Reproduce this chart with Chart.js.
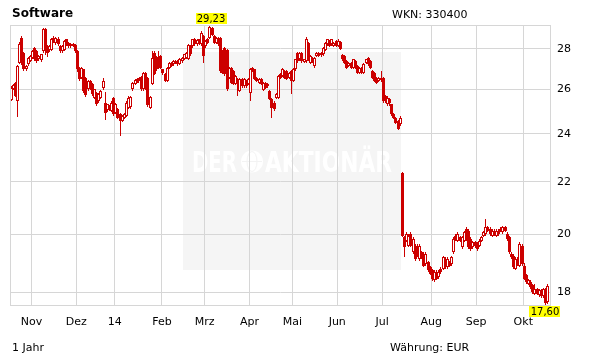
<!DOCTYPE html>
<html><head><meta charset="utf-8">
<script src="https://cdn.jsdelivr.net/npm/chart.js@4/dist/chart.umd.min.js"></script>
<style>
html,body{margin:0;padding:0;background:#fff;}
#wrap{position:relative;width:611px;height:364px;overflow:hidden;}
#c{position:absolute;left:0;top:0;}
.t{position:absolute;font-family:"DejaVu Sans",Verdana,sans-serif;color:#000;white-space:nowrap;font-size:11px;line-height:13px;}
</style></head><body>
<div id="wrap">
<canvas id="c" width="611" height="364"></canvas>
<div class="t" style="left:12px;top:6px;font-weight:bold;font-size:12px;line-height:14px;">Software</div>
<div class="t" style="left:392px;top:8px;">WKN: 330400</div>
<div class="t" style="left:12px;top:341px;">1 Jahr</div>
<div class="t" style="left:390px;top:341px;">Währung: EUR</div>
</div>
<script>
// ---- data (daily candles, Software AG, Oct 2013 - Oct 2014) ----
const open = [
25.50,26.05,26.33,25.47,27.30,28.56,27.80,26.97,27.22,27.40,
27.55,28.05,27.88,27.46,27.42,27.88,29.04,28.13,27.93,27.96,
28.56,28.30,28.50,28.13,27.88,27.96,28.48,28.30,28.13,28.13,
28.18,27.88,27.05,26.57,26.97,26.57,26.01,26.41,26.25,25.62,
25.85,25.47,25.62,26.09,25.39,25.05,25.24,25.01,25.59,24.94,
25.09,24.86,24.56,24.71,24.79,25.16,25.20,26.01,26.25,26.49,
26.45,26.61,26.01,26.81,26.57,25.16,26.25,27.80,27.60,27.55,
27.63,26.97,26.73,26.41,27.05,27.30,27.22,27.30,27.38,27.22,
27.38,27.50,27.55,27.50,28.13,28.13,28.48,28.22,28.48,28.22,
28.65,28.13,28.48,28.56,29.08,28.65,28.30,28.56,28.56,27.88,
28.05,27.96,26.57,27.05,26.89,26.25,26.49,25.93,26.49,26.17,
26.41,26.25,25.85,27.05,26.97,26.57,26.33,26.49,25.98,26.33,
26.17,25.93,25.54,25.39,25.62,25.62,26.73,26.65,26.89,26.89,
26.57,26.89,26.41,26.97,27.80,27.46,27.80,27.33,27.38,28.30,
27.30,27.55,27.13,27.63,27.80,27.67,27.71,27.96,28.22,28.39,
28.22,28.13,28.39,28.13,28.34,27.67,27.63,27.38,27.13,27.30,
27.05,27.38,27.13,26.81,27.05,26.81,27.30,27.55,27.38,26.89,
26.81,26.57,26.41,26.44,26.57,25.70,25.31,25.54,25.31,24.86,
24.71,24.56,24.41,22.37,19.90,19.78,19.60,20.02,19.36,19.60,
19.60,19.13,19.36,19.30,18.96,19.02,18.85,18.74,18.40,18.68,
18.51,18.79,18.79,19.13,18.85,19.02,18.96,19.36,19.96,19.78,
19.90,19.54,19.78,20.20,20.14,19.84,19.54,19.72,19.66,19.60,
19.78,19.96,20.02,20.26,20.20,19.96,20.14,19.96,20.14,20.14,
20.08,20.26,20.02,19.90,19.30,19.25,18.79,19.13,18.90,19.60,
18.90,18.57,18.29,18.35,18.24,17.96,18.11,17.91,18.07,17.89,18.11,17.69];
const high = [
26.15,26.25,26.38,27.20,28.35,28.65,27.85,27.20,27.60,27.70,
27.95,28.10,27.95,27.70,27.75,29.08,29.08,28.20,28.20,28.55,
28.65,28.60,28.58,28.20,28.18,28.45,28.52,28.35,28.28,28.30,
28.25,27.92,27.10,27.10,27.00,26.60,26.45,26.45,26.30,26.05,
25.90,25.82,25.98,26.53,25.88,25.35,25.30,25.45,25.65,25.38,
25.15,24.90,24.85,24.92,25.45,25.68,25.72,26.38,26.50,26.55,
26.62,26.66,26.86,26.85,26.60,25.72,27.88,27.88,27.65,27.88,
27.70,27.00,26.78,27.10,27.35,27.35,27.42,27.42,27.45,27.52,
27.60,27.75,27.85,28.25,28.18,28.52,28.55,28.50,28.52,28.91,
28.70,28.45,28.55,29.23,29.12,28.70,28.60,28.60,28.60,27.95,
28.10,28.00,27.10,27.10,26.95,26.70,26.55,26.55,26.55,26.53,
26.45,26.55,27.02,27.10,27.00,26.62,26.55,26.55,26.38,26.38,
26.30,25.98,25.60,25.45,25.82,26.70,26.80,27.02,26.95,26.95,
26.85,26.95,27.02,27.50,27.85,27.85,27.85,27.50,28.58,28.35,
27.68,27.60,27.60,27.85,27.85,27.85,28.10,28.35,28.52,28.45,
28.52,28.35,28.45,28.50,28.40,27.72,27.68,27.42,27.35,27.35,
27.50,27.42,27.18,27.10,27.10,27.28,27.50,27.60,27.42,26.95,
26.85,26.62,26.62,26.89,26.62,25.75,25.68,25.60,25.35,24.90,
24.75,24.60,24.80,22.40,19.96,20.08,20.02,20.08,19.90,19.66,
19.66,19.66,19.42,19.36,19.36,19.07,18.90,18.79,18.74,18.74,
18.74,18.85,19.25,19.19,19.19,19.07,19.25,19.90,20.02,20.08,
19.96,19.96,20.14,20.26,20.20,19.90,19.78,19.78,19.72,19.84,
19.96,20.14,20.56,20.32,20.26,20.20,20.20,20.20,20.20,20.26,
20.32,20.32,20.08,19.96,19.36,19.30,19.19,19.19,19.72,19.66,
19.00,18.62,18.46,18.40,18.29,18.27,18.16,18.13,18.13,18.16,18.16,18.27];
const low = [
25.45,26.00,25.65,24.72,27.25,27.20,26.90,26.90,27.15,27.35,
27.50,27.40,27.30,27.40,27.35,27.80,27.70,27.60,27.85,27.90,
28.30,28.20,28.15,27.80,27.80,27.90,28.15,28.05,28.05,28.10,
27.80,26.85,26.40,26.50,25.85,25.65,25.95,26.00,25.70,25.55,
25.25,25.40,25.55,26.00,24.60,24.98,25.00,24.95,24.80,24.88,
24.65,23.91,24.50,24.65,24.72,25.10,25.10,25.95,26.20,26.30,
26.40,25.95,25.95,26.00,25.20,25.10,26.20,26.70,26.90,27.00,
27.00,26.70,26.35,26.35,27.00,27.08,27.15,27.25,27.15,27.18,
27.30,27.45,27.50,27.45,27.65,28.05,28.15,28.15,28.18,28.15,
27.30,28.05,28.25,28.50,28.65,28.25,28.25,28.15,26.80,26.75,
26.65,25.95,26.50,26.25,26.20,26.20,25.70,25.88,26.10,26.10,
26.10,26.20,25.47,26.85,26.45,26.35,26.28,26.20,25.93,26.05,
26.10,25.50,24.71,25.00,25.55,25.58,26.50,26.60,26.50,26.45,
26.50,25.78,26.35,26.90,27.30,27.40,27.30,27.28,27.30,27.40,
27.25,27.30,27.05,27.58,27.58,27.60,27.65,27.90,28.15,28.08,
28.15,28.08,28.08,28.08,27.95,27.40,27.25,27.00,27.08,27.00,
27.00,27.00,26.75,26.75,26.75,26.75,27.25,27.15,27.00,26.50,
26.35,26.28,26.35,26.38,25.40,25.40,25.25,25.24,24.80,24.65,
24.43,24.15,24.35,19.90,19.19,19.72,19.54,19.55,19.30,19.07,
19.19,19.07,19.13,18.85,18.90,18.68,18.57,18.38,18.35,18.40,
18.46,18.62,18.74,18.79,18.79,18.85,18.90,19.30,19.78,19.72,
19.72,19.48,19.72,19.78,19.48,19.42,19.48,19.52,19.42,19.54,
19.72,19.90,19.96,20.08,19.96,19.90,19.96,19.90,19.96,20.08,
20.02,20.08,19.78,19.30,19.13,18.79,18.74,18.90,18.85,18.90,
18.40,18.29,18.24,18.13,17.96,17.91,17.91,17.86,17.84,17.84,17.60,17.64];
const close = [
26.09,26.20,25.70,27.16,28.26,27.30,26.97,27.13,27.55,27.63,
27.88,27.46,27.38,27.63,27.71,29.04,27.88,27.80,28.13,28.48,
28.39,28.56,28.22,27.88,28.13,28.39,28.22,28.13,28.22,28.22,
27.88,26.97,26.49,27.05,25.93,25.73,26.41,26.09,25.78,26.01,
25.31,25.78,25.93,26.41,24.94,25.31,25.09,25.39,24.86,25.31,
24.71,24.56,24.79,24.86,25.39,25.62,25.67,26.33,26.44,26.33,
26.57,26.01,26.81,26.09,25.27,25.67,27.55,26.73,26.97,27.05,
27.05,26.78,26.41,27.05,27.30,27.13,27.38,27.38,27.22,27.46,
27.55,27.71,27.80,28.17,27.71,28.48,28.22,28.44,28.22,28.82,
27.63,28.39,28.30,29.12,28.73,28.30,28.56,28.22,26.89,26.81,
26.73,26.01,27.05,26.33,26.25,26.65,26.33,26.49,26.17,26.49,
26.17,26.49,26.97,26.89,26.49,26.41,26.49,26.25,26.33,26.09,
26.25,25.54,25.16,25.09,25.78,26.65,26.57,26.97,26.57,26.49,
26.81,26.41,26.97,27.46,27.38,27.80,27.38,27.46,28.48,27.46,
27.63,27.38,27.55,27.80,27.63,27.80,28.05,28.30,28.48,28.13,
28.48,28.30,28.13,28.39,28.00,27.46,27.30,27.05,27.30,27.05,
27.46,27.05,26.81,27.05,26.81,27.22,27.46,27.22,27.05,26.57,
26.41,26.33,26.57,26.57,25.47,25.47,25.62,25.39,24.86,24.71,
24.49,24.20,24.71,19.94,19.54,20.02,19.96,19.60,19.84,19.13,
19.25,19.60,19.19,18.90,19.30,18.74,18.62,18.46,18.68,18.46,
18.68,18.68,19.19,18.85,19.13,18.90,19.19,19.84,19.84,20.02,
19.78,19.90,20.08,19.84,19.54,19.48,19.72,19.58,19.48,19.78,
19.90,20.08,20.26,20.14,20.02,20.14,20.02,20.14,20.02,20.20,
20.26,20.14,19.84,19.36,19.19,18.85,19.13,18.96,19.66,18.96,
18.46,18.35,18.40,18.18,18.02,18.11,17.96,18.07,17.89,18.11,17.67,18.22];

const monthLabels = ['Nov','Dez','14','Feb','Mrz','Apr','Mai','Jun','Jul','Aug','Sep','Okt'];
const monthStart  = [10, 31, 49, 71, 91, 112, 132, 153, 174, 197, 218, 240];
const yTickValues = [18, 20, 22, 24, 26, 28];

// ---- styling ----
const RED = '#cc0000';
const GRID = '#d6d6d6';
const FONT = '"DejaVu Sans", Verdana, sans-serif';

// the axis runs one trading day beyond the last candle
const slots = close.length + 1;
const labels = Array.from({length: slots}, (_, i) => i);
const tickText = {};
monthStart.forEach((s, k) => { tickText[s] = monthLabels[k]; });
const yMax = Math.max(...high);
const yMin = Math.min(...low);
const fmt = v => v.toFixed(2).replace('.', ',');

// snap the bars that Chart.js laid out onto whole device pixels (crisp 1px / 3px candles)
const snap = {
  id: 'snap',
  beforeDatasetsDraw(chart) {
    chart.getSortedVisibleDatasetMetas().forEach(meta => {
      meta.data.forEach(el => {
        el.x = Math.floor(el.x) + 0.5;
        el.y = Math.round(el.y);
        el.base = Math.round(el.base);
        if (Math.abs(el.base - el.y) < 1) el.base = el.y + 1;
      });
    });
  }
};

const decor = {
  id: 'decor',
  beforeDraw(chart) {
    const c = chart.ctx;
    c.save();
    c.fillStyle = '#f5f5f5';
    c.fillRect(183, 52, 218, 218);
    c.fillStyle = '#ffffff';
    c.font = 'bold 29px "DejaVu Sans Condensed", "Liberation Sans Narrow", sans-serif';
    c.textBaseline = 'alphabetic';
    c.textAlign = 'left';
    c.fillText('DER', 192, 172, 45);
    c.beginPath(); c.arc(252, 161.5, 11, 0, Math.PI * 2); c.fill();
    c.strokeStyle = '#f3f3f3'; c.lineWidth = 1;
    c.beginPath(); c.ellipse(252, 161.5, 5, 10, 0, 0, Math.PI * 2); c.stroke();
    c.beginPath(); c.moveTo(242, 161.5); c.lineTo(262, 161.5); c.stroke();
    c.fillText('AKTIONÄR', 265, 172, 127);
    c.restore();
  },
  afterDraw(chart) {
    const c = chart.ctx, a = chart.chartArea;
    const xs = chart.scales.x, ys = chart.scales.y;
    c.save();
    c.strokeStyle = GRID; c.lineWidth = 1;
    c.strokeRect(a.left + 0.5, a.top + 0.5, a.right - a.left - 1, a.bottom - a.top);
    c.font = '10px ' + FONT;
    c.textAlign = 'center'; c.textBaseline = 'alphabetic';
    const iMax = high.indexOf(yMax), iMin = low.indexOf(yMin);
    const boxes = [
      {txt: fmt(yMax), x: xs.getPixelForValue(iMax) + 1.5, top: ys.getPixelForValue(yMax) - 12},
      {txt: fmt(yMin), x: xs.getPixelForValue(iMin) - 1, top: ys.getPixelForValue(yMin) + 1}
    ];
    boxes.forEach(b => {
      const w = c.measureText(b.txt).width + 2;
      c.fillStyle = '#ffff00';
      c.fillRect(Math.round(b.x - w / 2), Math.round(b.top), Math.round(w), 11);
      c.fillStyle = '#000';
      c.fillText(b.txt, Math.round(b.x), Math.round(b.top) + 9);
    });
    c.restore();
  }
};

new Chart(document.getElementById('c'), {
  type: 'bar',
  data: {
    labels,
    datasets: [
      {
        label: 'body',
        data: open.map((o, i) => [o, close[i]]),
        backgroundColor: open.map((o, i) => close[i] >= o ? '#ffffff' : RED),
        borderColor: RED, borderWidth: 1, borderSkipped: false, inflateAmount: 0,
        barThickness: 3, grouped: false, order: 1
      },
      {
        label: 'wick',
        data: low.map((l, i) => [l, high[i]]),
        backgroundColor: RED, borderWidth: 0, inflateAmount: 0,
        barThickness: 1, grouped: false, order: 2
      }
    ]
  },
  options: {
    responsive: false, animation: false, devicePixelRatio: 1,
    layout: {padding: {left: 10, top: 25, right: 0, bottom: 0}},
    plugins: {legend: {display: false}, tooltip: {enabled: false}},
    scales: {
      x: {
        type: 'category', offset: true,
        grid: {
          offset: true, drawTicks: false, lineWidth: 1,
          color: ctx => (tickText[ctx.index] !== undefined ? GRID : 'rgba(0,0,0,0)')
        },
        border: {display: false},
        ticks: {
          autoSkip: false, maxRotation: 0, minRotation: 0, padding: 11, labelOffset: -1,
          font: {family: FONT, size: 11}, color: '#000',
          callback: (v, i) => tickText[i] || ''
        },
        afterFit: s => { s.height = 59; }
      },
      y: {
        type: 'logarithmic', position: 'right', min: yMin, max: yMax,
        afterBuildTicks: s => { s.ticks = yTickValues.map(v => ({value: v})); },
        grid: {color: GRID, drawTicks: false, lineWidth: 1},
        border: {display: false},
        ticks: {padding: 6, font: {family: FONT, size: 11}, color: '#000', callback: v => String(v)},
        afterFit: s => { s.width = 60; }
      }
    }
  },
  plugins: [snap, decor]
});
</script>
</body></html>
